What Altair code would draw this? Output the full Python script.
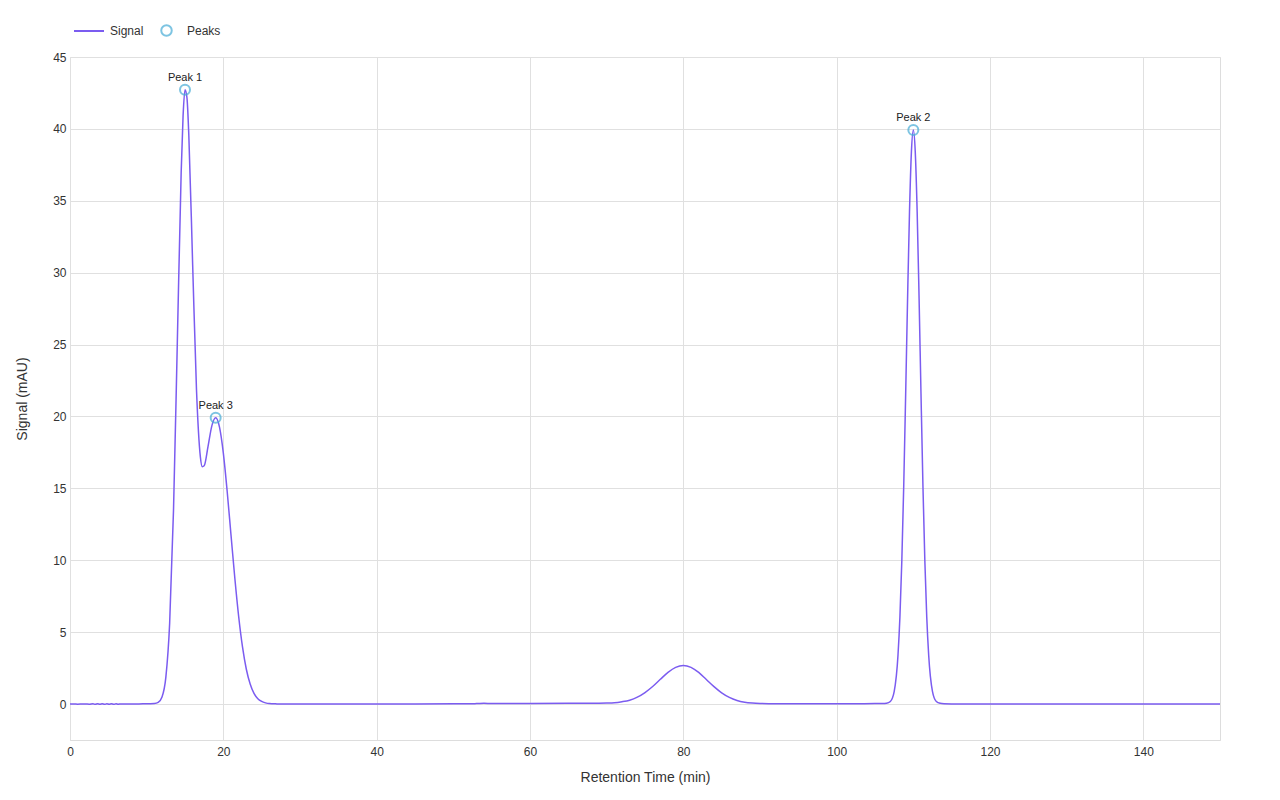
import altair as alt
import pandas as pd

# Retention time (min) and detector signal (mAU)
time_min = [0, 0.5, 1, 1.5, 2, 2.5, 3, 3.3, 3.6, 3.9, 4.2, 4.5, 4.8, 5.1, 5.4, 5.7, 6.0, 6.3, 6.6, 7,
            8, 9, 10, 10.5, 11, 11.5, 12, 12.5, 13, 13.5, 14, 14.5, 14.75, 15, 15.25, 15.5, 16, 16.5,
            17, 17.25, 17.5, 18, 18.5, 19, 19.5, 20, 20.5, 21, 21.5, 22, 22.5, 23, 23.5, 24, 24.5,
            25, 25.5, 26, 27, 28, 30, 35, 40, 45, 50, 53, 54, 55, 60, 65, 68, 69, 70, 71, 72, 73,
            74, 75, 76, 77, 78, 79, 80, 81, 82, 83, 84, 85, 86, 87, 88, 89, 90, 92, 95, 100, 105,
            106, 106.5, 107, 107.5, 108, 108.25, 108.5, 108.75, 109, 109.25, 109.5, 109.75, 110,
            110.25, 110.5, 110.75, 111, 111.25, 111.5, 111.75, 112, 112.5, 113, 113.5, 114, 115,
            120, 130, 140, 150]
signal_mau = [0.0, 0.01, -0.01, 0.0, 0.01, -0.01, 0.015, -0.02, 0.02, -0.015, 0.02, -0.02, 0.015, -0.01,
              0.02, -0.02, 0.015, -0.015, 0.01, 0.0,
              0.01, 0.01, 0.02, 0.02, 0.03, 0.11, 0.49, 1.86, 5.64, 13.47, 25.19, 36.96, 40.91,
              42.72, 42.19, 39.53, 30.53, 21.84,
              17.21, 16.51, 16.57, 17.90, 19.35, 19.91, 19.26, 17.45, 14.80, 11.76, 8.75, 6.09, 3.97,
              2.42, 1.39, 0.74, 0.37,
              0.18, 0.08, 0.03, 0.01, 0.0, 0.0, 0.0, 0.01, 0.01, 0.02, 0.03, 0.05, 0.04, 0.04, 0.05,
              0.06, 0.06, 0.07, 0.09, 0.16, 0.27,
              0.48, 0.80, 1.22, 1.72, 2.20, 2.55, 2.68, 2.55, 2.20, 1.71, 1.21, 0.78, 0.46, 0.25,
              0.13, 0.07, 0.04, 0.02, 0.02, 0.02, 0.03,
              0.03, 0.05, 0.18, 0.87, 3.41, 6.06, 9.98, 15.24, 21.56, 28.22, 34.23, 38.42, 39.93,
              38.42, 34.23, 28.22, 21.56, 15.24, 9.98, 6.06, 3.41, 0.87, 0.18, 0.05, 0.02, 0.01,
              0.0, 0.0, 0.0, 0.0]

peak_time = [15, 110, 19]
peak_signal = [42.72, 39.93, 19.91]
peak_label = ["Peak 1", "Peak 2", "Peak 3"]

LINE_COLOR = "#7b5cf0"
PEAK_COLOR = "#47acd6"
FONT = "Liberation Sans"

sig = pd.DataFrame({"t": time_min, "v": signal_mau, "series": ["Signal"] * len(time_min)})
pk = pd.DataFrame({"t": peak_time, "v": peak_signal, "label": peak_label,
                   "kind": ["Peaks"] * len(peak_time)})

x_enc = alt.X("t:Q", title="Retention Time (min)",
              scale=alt.Scale(domain=[0, 150], nice=False, zero=False),
              axis=alt.Axis(values=[0, 20, 40, 60, 80, 100, 120, 140], tickSize=0,
                            labelFlush=False,
                            labelPadding=6, titlePadding=13, domainColor="#dddddd",
                            gridColor="#e0e0e0", labelFontSize=12, titleFontSize=14,
                            labelColor="#333333", titleColor="#333333", titleFontWeight="normal",
                            labelFont=FONT, titleFont=FONT))
y_enc = alt.Y("v:Q", title="Signal (mAU)",
              scale=alt.Scale(domain=[-2.5, 45], nice=False, zero=False),
              axis=alt.Axis(values=[0, 5, 10, 15, 20, 25, 30, 35, 40, 45], tickSize=0,
                            domain=False, labelPadding=4, titlePadding=23,
                            gridColor="#e0e0e0", labelFontSize=12, titleFontSize=14,
                            labelColor="#333333", titleColor="#333333", titleFontWeight="normal",
                            labelFont=FONT, titleFont=FONT))

line = alt.Chart(sig).mark_line(strokeWidth=1.5, interpolate="monotone").encode(
    x=x_enc, y=y_enc,
    color=alt.Color("series:N",
                    scale=alt.Scale(domain=["Signal"], range=[LINE_COLOR]),
                    legend=alt.Legend(title=None, orient="none", legendX=3, legendY=-42,
                                      symbolType="stroke", symbolSize=900, symbolStrokeWidth=2,
                                      labelFontSize=12, labelFont=FONT, labelColor="#333333",
                                      labelOffset=5)),
)

points = alt.Chart(pk).mark_point(filled=False, size=100, strokeWidth=2).encode(
    x="t:Q", y="v:Q",
    stroke=alt.Stroke("kind:N",
                      scale=alt.Scale(domain=["Peaks"], range=[PEAK_COLOR]),
                      legend=alt.Legend(title=None, orient="none", legendX=90, legendY=-33,
                                        symbolType="circle", symbolSize=110, symbolStrokeWidth=2,
                                        labelFontSize=12, labelFont=FONT, labelColor="#333333",
                                        labelOffset=14)),
)

labels = alt.Chart(pk).mark_text(dy=-12, fontSize=11, font=FONT, color="#222222").encode(
    x="t:Q", y="v:Q", text="label:N"
)

chart = alt.layer(line, points, labels).properties(
    width=1150, height=683,
    autosize=alt.AutoSizeParams(type="none"),
    padding={"left": 70, "top": 57, "right": 60, "bottom": 60},
).configure_view(stroke=None).configure(background="white")

chart.save("out.html", embed_options={"renderer": "svg", "actions": False})
